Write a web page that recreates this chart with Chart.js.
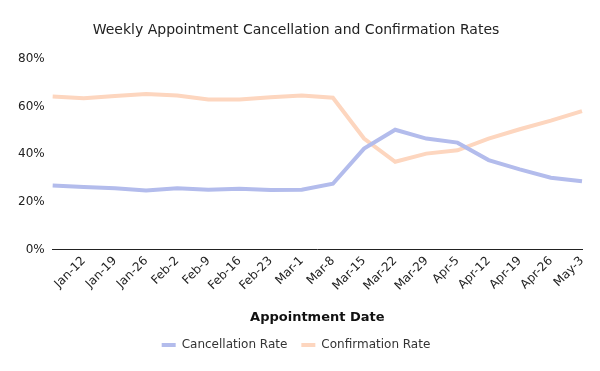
<!DOCTYPE html>
<html lang="en">
<head>
    <meta charset="UTF-8">
    <title>Weekly Appointment Cancellation and Confirmation Rates</title>
    <script src="https://cdn.jsdelivr.net/npm/chart.js@4.4.0/dist/chart.umd.min.js"></script>
    <style>
        html, body { margin: 0; padding: 0; background: #fff; }
        #wrap { width: 600px; height: 371px; }
    </style>
</head>
<body>
    <div id="wrap"><canvas id="rateChart"></canvas></div>

    <script>
        // week labels (first week has no label shown on the axis)
        const weeks = ['Jan-5', 'Jan-12', 'Jan-19', 'Jan-26', 'Feb-2', 'Feb-9', 'Feb-16', 'Feb-23', 'Mar-1',
            'Mar-8', 'Mar-15', 'Mar-22', 'Mar-29', 'Apr-5', 'Apr-12', 'Apr-19', 'Apr-26', 'May-3'];
        const cancellationRate = [27.0, 26.3, 25.8, 24.9, 25.8, 25.2, 25.6, 25.1, 25.2,
            27.7, 42.4, 50.3, 46.6, 44.9, 37.6, 33.7, 30.2, 28.7];
        const confirmationRate = [64.2, 63.5, 64.4, 65.3, 64.6, 63.0, 63.0, 63.9, 64.6,
            63.7, 46.6, 36.9, 40.3, 41.7, 46.6, 50.5, 54.1, 58.1];
        const yTicks = [0, 20, 40, 60, 80];

        const font = "'DejaVu Sans', Verdana, sans-serif";

        new Chart(document.getElementById('rateChart'), {
            type: 'line',
            data: {
                labels: weeks,
                datasets: [
                    {
                        label: 'Cancellation Rate',
                        data: cancellationRate,
                        borderColor: '#b3bcec',
                        backgroundColor: '#b3bcec',
                        borderWidth: 4,
                        pointRadius: 0,
                        tension: 0
                    },
                    {
                        label: 'Confirmation Rate',
                        data: confirmationRate,
                        borderColor: '#fdd6bf',
                        backgroundColor: '#fdd6bf',
                        borderWidth: 4,
                        pointRadius: 0,
                        tension: 0
                    }
                ]
            },
            options: {
                responsive: true,
                maintainAspectRatio: false,
                animation: false,
                layout: { padding: { left: 10, right: 18, top: 8, bottom: 10 } },
                plugins: {
                    title: {
                        display: true,
                        text: 'Weekly Appointment Cancellation and Confirmation Rates',
                        color: '#222',
                        font: { family: font, size: 14, weight: 'normal' },
                        padding: { top: 14, bottom: 20 }
                    },
                    legend: {
                        position: 'bottom',
                        labels: {
                            usePointStyle: true,
                            pointStyle: 'line',
                            pointStyleWidth: 14,
                            boxHeight: 4,
                            color: '#333',
                            font: { family: font, size: 12 },
                            padding: 14
                        }
                    },
                    tooltip: { enabled: false }
                },
                scales: {
                    x: {
                        grid: { display: false, drawTicks: false },
                        border: { display: true, color: '#222', width: 1 },
                        offset: false,
                        title: {
                            display: true,
                            text: 'Appointment Date',
                            color: '#111',
                            font: { family: font, size: 13, weight: 'bold' },
                            padding: { top: 12, bottom: 0 }
                        },
                        ticks: {
                            autoSkip: false,
                            maxRotation: 45,
                            minRotation: 45,
                            color: '#222',
                            padding: 4,
                            font: { family: font, size: 12 },
                            callback: function (value, index) {
                                return index === 0 ? '' : weeks[index];
                            }
                        }
                    },
                    y: {
                        min: 0,
                        max: 80,
                        grid: { display: false, drawTicks: false },
                        border: { display: false },
                        afterBuildTicks: function (axis) {
                            axis.ticks = yTicks.map(v => ({ value: v }));
                        },
                        ticks: {
                            color: '#222',
                            padding: 8,
                            font: { family: font, size: 12 },
                            callback: v => v + '%'
                        }
                    }
                }
            }
        });
    </script>
</body>
</html>
